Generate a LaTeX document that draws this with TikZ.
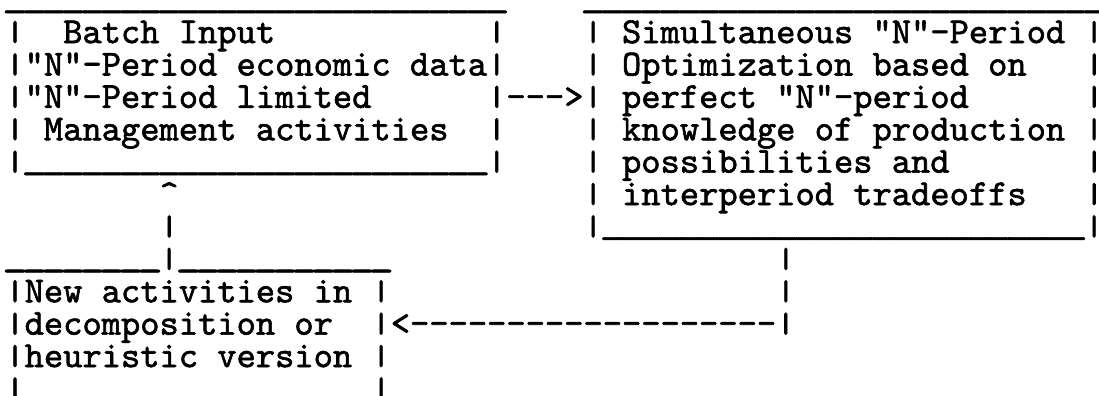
\documentclass[tikz,border=0pt]{standalone}
\usepackage{fontspec}
% slab-serif typewriter face, darkened like a ribbon print
\newfontfamily\typewr{lmmono10-regular.otf}[FakeBold=1.6]
% an underscore widened to fill its cell, so that runs join into a rule
\newcommand\us{\makebox[0.525em]{\raisebox{0.1em}{\scalebox{1.32}[1]{\_}}}}
% a run of n underscores
\newcommand\unders[1]{\foreach \k in {1,...,#1}{\us}}
% a vertical bar that stands on the baseline and reaches cap height
\newsavebox\barbox
\newlength\barwd
\newcommand\vl{%
  \sbox\barbox{|}\setlength\barwd{\wd\barbox}%
  \sbox\barbox{\resizebox*{\barwd}{0.6em}{|}}%
  \raisebox{\dp\barbox}{\usebox\barbox}}
\begin{document}
\begin{tikzpicture}[x=9.635pt, y=-16.2pt,
  typed/.style={font=\typewr\fontsize{18.35pt}{16.2pt}\selectfont,
                inner sep=0pt, outer sep=0pt, anchor=base west}]
% one character cell per column, one typed line per row
\newcommand\tline[4]{\node[typed] (#1) at ({#2+0.28},{#3+0.33}) {#4};}
\useasboundingbox (0,0) rectangle (57.03,12.22);
\fill[white] (0,0) rectangle (57.03,12.22);

% Batch input box
\tline{bTop}{0}{0}{\unders{26}}
\tline{bA}{0}{1}{\vl\ \ Batch Input}
\tline{bAr}{25}{1}{\vl}
\tline{bB}{0}{2}{\vl"N"-Period economic data\vl}
\tline{bC}{0}{3}{\vl"N"-Period limited}
\tline{bD}{0}{4}{\vl\ Management activities}
\tline{bDr}{25}{4}{\vl}
\tline{bBot}{0}{5}{\vl\unders{24}\vl}

% arrow into the optimization box
\tline{toOpt}{25}{3}{\vl-{}-{}->\vl}

% Optimization box
\tline{oTop}{30}{0}{\unders{27}}
\tline{oA}{30}{1}{\vl\ Simultaneous "N"-Period \vl}
\tline{oB}{30}{2}{\vl\ Optimization based on}
\tline{oBr}{56}{2}{\vl}
\tline{oC}{32}{3}{perfect "N"-period}
\tline{oCr}{56}{3}{\vl}
\tline{oD}{30}{4}{\vl\ knowledge of production \vl}
\tline{oE}{30}{5}{\vl\ possibilities and}
\tline{oEr}{56}{5}{\vl}
\tline{oF}{30}{6}{\vl\ interperiod tradeoffs}
\tline{oFr}{56}{6}{\vl}
\tline{oBot}{30}{7}{\vl\unders{25}\vl}

% return path from the optimization box
\tline{retA}{40}{8}{\vl}
\tline{retB}{40}{9}{\vl}
\tline{retC}{19}{10}{\vl<-{}-{}-{}-{}-{}-{}-{}-{}-{}-{}-{}-{}-{}-{}-{}-{}-{}-{}-\vl}

% path up to the batch input box
\tline{upA}{8}{6}{\textasciicircum}
\tline{upB}{8}{7}{\vl}

% New activities box
\tline{nTop}{0}{8}{\unders{8}\vl\unders{11}}
\tline{nA}{0}{9}{\vl New activities in \vl}
\tline{nB}{0}{10}{\vl decomposition or}
\tline{nC}{0}{11}{\vl heuristic version \vl}
\tline{nD}{0}{12}{\vl}
\tline{nDr}{19}{12}{\vl}
\end{tikzpicture}
\end{document}
